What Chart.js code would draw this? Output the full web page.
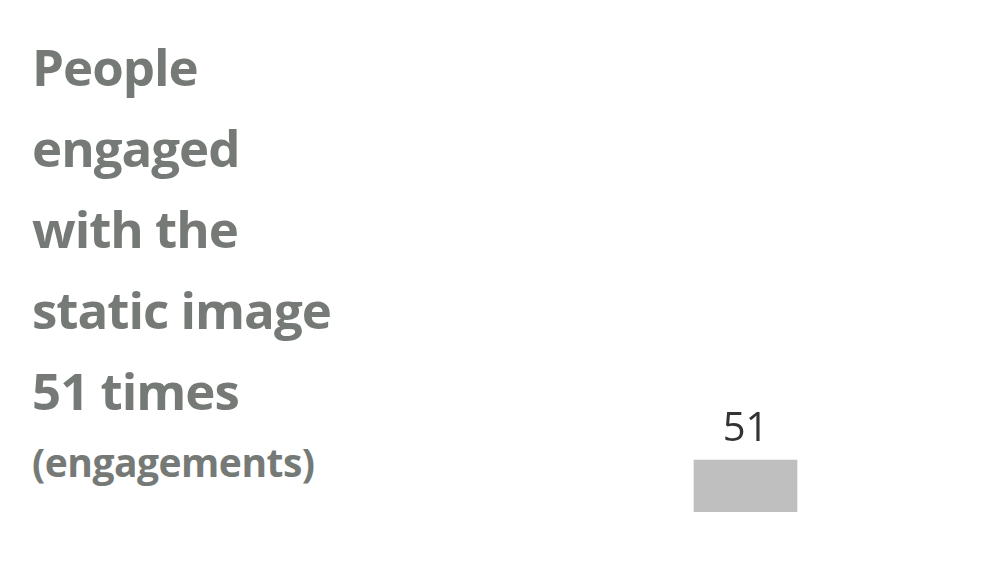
<!DOCTYPE html>
<html>
<head>
<meta charset="utf-8">
<script src="https://cdn.jsdelivr.net/npm/chart.js@4"></script>
<style>
  html, body { margin: 0; padding: 0; background: #fff; width: 1000px; height: 563px; overflow: hidden; }
  .title { position: absolute; left: 32px; top: 26px; font-family: "Open Sans", sans-serif; font-weight: 700; color: #767a77; }
  .title .big { font-size: 51px; line-height: 81px; letter-spacing: -1px; }
  .title .sub { font-size: 39px; line-height: 62px; letter-spacing: -0.5px; }
  .wrap { position: absolute; left: 594px; top: 60px; width: 303px; height: 452px; }
</style>
</head>
<body>
<div class="title">
  <div class="big">People<br>engaged<br>with the<br>static image<br>51 times</div>
  <div class="sub">(engagements)</div>
</div>
<div class="wrap"><canvas id="chart"></canvas></div>
<script>
const categories = ['Static image'];
const values = [51];
const axisMax = 443;

const valueLabels = {
  id: 'valueLabels',
  afterDatasetsDraw(chart) {
    const ctx = chart.ctx;
    const meta = chart.getDatasetMeta(0);
    ctx.save();
    ctx.fillStyle = '#333';
    ctx.font = '40px "Open Sans", sans-serif';
    ctx.textAlign = 'center';
    ctx.textBaseline = 'bottom';
    meta.data.forEach((bar, i) => {
      ctx.fillText(String(values[i]), bar.x, bar.y - 10);
    });
    ctx.restore();
  }
};

new Chart(document.getElementById('chart'), {
  type: 'bar',
  data: {
    labels: categories,
    datasets: [{ data: values, backgroundColor: '#bfbfbf', barThickness: 103 }]
  },
  options: {
    responsive: true,
    maintainAspectRatio: false,
    animation: false,
    layout: { padding: 0 },
    plugins: { legend: { display: false }, tooltip: { enabled: false } },
    scales: {
      x: { display: false },
      y: { display: false, min: 0, max: axisMax }
    }
  },
  plugins: [valueLabels]
});
</script>
</body>
</html>
